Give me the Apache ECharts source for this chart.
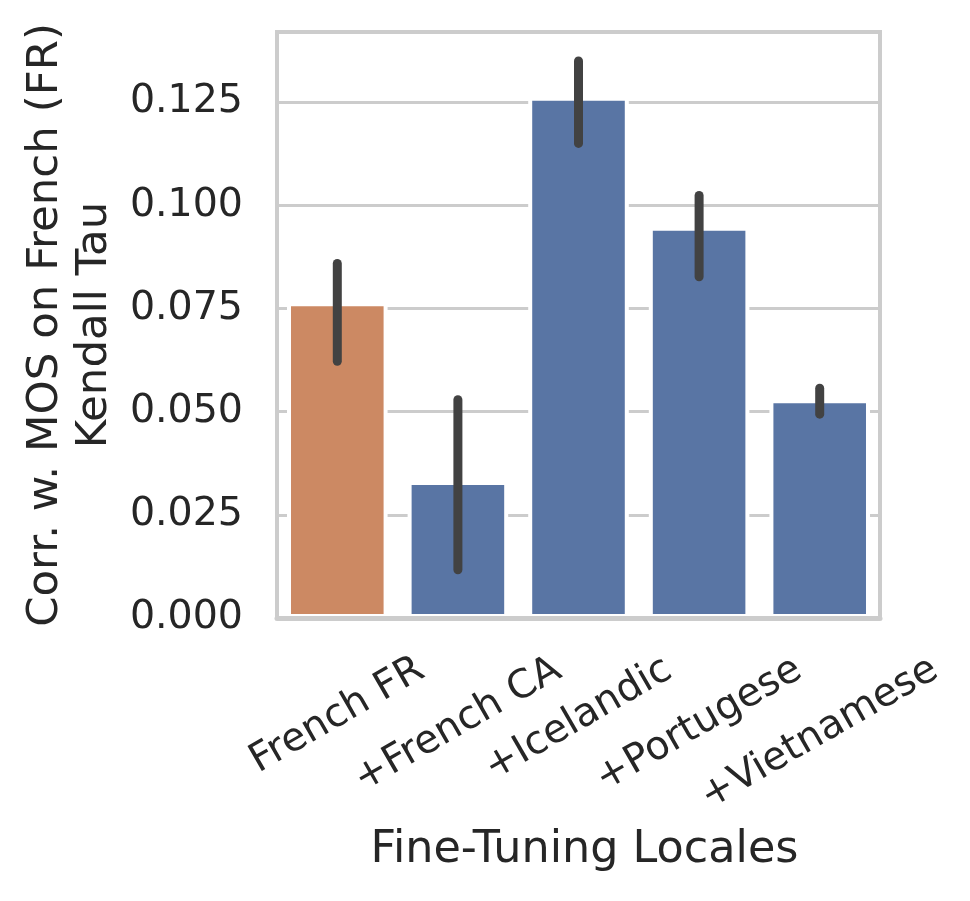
<!DOCTYPE html>
<html><head><meta charset="utf-8">
<script src="https://cdn.jsdelivr.net/npm/echarts@6/dist/echarts.min.js"></script>
<style>html,body{margin:0;padding:0;background:#fff}#c{width:970px;height:901px}</style>
</head><body><div id="c"></div>
<script>
const categories = ['French FR', '+French CA', '+Icelandic', '+Portugese', '+Vietnamese'];
const meanValues = [0.0765, 0.0332, 0.1263, 0.0948, 0.0530];
const ciLow = [0.0622, 0.0117, 0.1150, 0.0827, 0.0494];
const ciHigh = [0.0859, 0.0529, 0.1350, 0.1024, 0.0557];
const barColors = ['#CC8963', '#5975A4', '#5975A4', '#5975A4', '#5975A4'];
const yTicks = [0, 0.025, 0.05, 0.075, 0.1, 0.125];
const yMax = 0.142;

const FONT = '"DejaVu Sans", sans-serif';
const TICK_SIZE = 39.5;
const ctx = document.createElement('canvas').getContext('2d');
ctx.font = TICK_SIZE + 'px "DejaVu Sans"';
const rich = {};
categories.forEach((c, i) => {
  const L = ctx.measureText(c).width;
  const d = L * 0.25;
  rich['l' + i] = {fontSize: TICK_SIZE, fontFamily: FONT, color: '#262626',
    padding: [2 * d * Math.cos(Math.PI / 6), d, 0, 0]};
});

const chart = echarts.init(document.getElementById('c'), null, {renderer: 'canvas'});
chart.setOption({
  animation: false,
  backgroundColor: '#fff',
  grid: {left: 277, top: 32, width: 603, height: 586, show: true,
    borderColor: '#cccccc', borderWidth: 4, backgroundColor: 'transparent'},
  xAxis: {
    type: 'category', data: categories, z: 3,
    axisLine: {show: true, lineStyle: {color: '#cccccc', width: 5}},
    axisTick: {show: false},
    axisLabel: {interval: 0, rotate: 30, align: 'center', verticalAlign: 'middle', margin: 49,
      formatter: (v, i) => '{l' + i + '|' + v + '}', rich: rich},
    name: 'Fine-Tuning Locales', nameLocation: 'middle', nameGap: 205,
    nameTextStyle: {fontSize: 44.5, fontFamily: FONT, color: '#262626', lineHeight: 52, padding: [0, 0, 0, 12]}
  },
  yAxis: {
    type: 'value', min: 0, max: yMax, interval: 0.025,
    axisLine: {show: false}, axisTick: {show: false},
    splitLine: {lineStyle: {color: '#cccccc', width: 3.2}},
    axisLabel: {margin: 34, fontSize: TICK_SIZE, fontFamily: FONT, color: '#262626', showMaxLabel: false,
      formatter: v => yTicks.some(t => Math.abs(t - v) < 1e-9) ? v.toFixed(3) : ''},
    name: 'Corr. w. MOS on French (FR)\nKendall Tau', nameLocation: 'middle', nameRotate: 90, nameGap: 158,
    nameTextStyle: {fontSize: 43.5, lineHeight: 49, fontFamily: FONT, color: '#262626'}
  },
  series: [
    {type: 'bar', barCategoryGap: '16.6%',
      itemStyle: {borderColor: '#ffffff', borderWidth: 4},
      data: meanValues.map((v, i) => ({value: v, itemStyle: {color: barColors[i]}}))},
    {type: 'custom', z: 5,
      data: ciLow.map((lo, i) => [i, lo, ciHigh[i]]),
      renderItem: (params, api) => {
        const p1 = api.coord([api.value(0), api.value(1)]);
        const p2 = api.coord([api.value(0), api.value(2)]);
        return {type: 'line', shape: {x1: p1[0], y1: p1[1], x2: p2[0], y2: p2[1]},
          style: {stroke: '#424242', lineWidth: 9, lineCap: 'round'}};
      }}
  ]
});
</script></body></html>
